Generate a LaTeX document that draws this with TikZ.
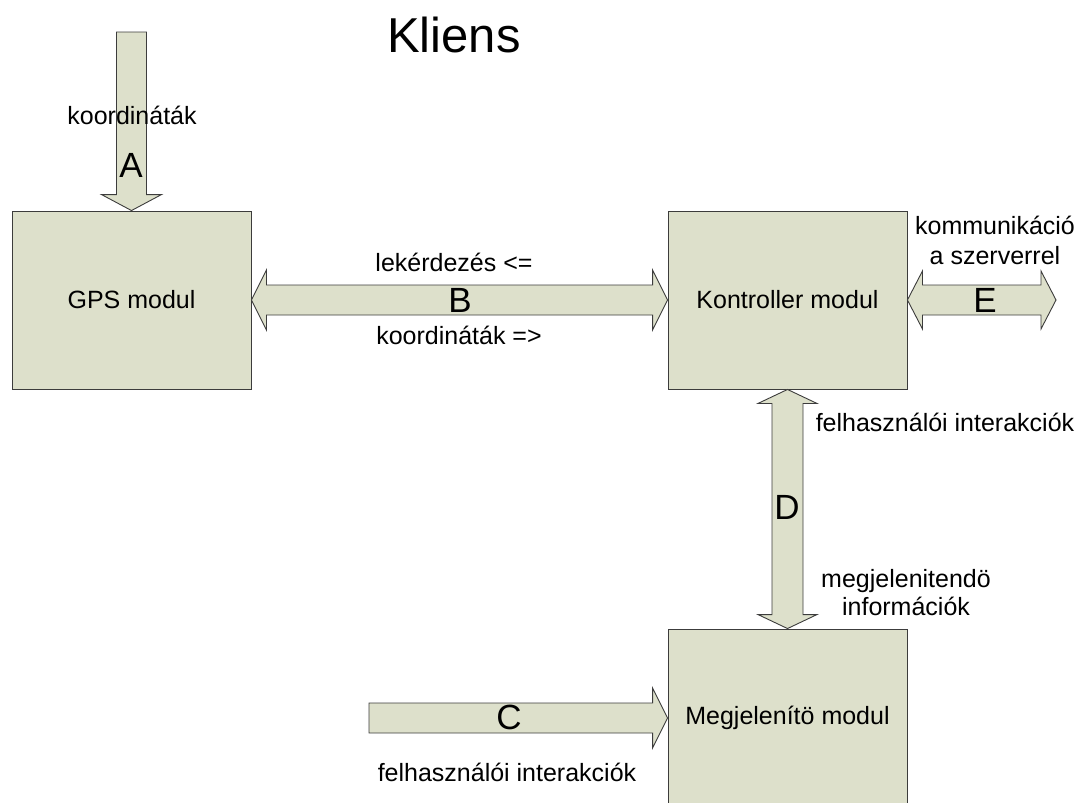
\documentclass[tikz,border=0pt]{standalone}
\usepackage{fontspec}
\setmainfont{Liberation Sans}
\usetikzlibrary{calc,positioning}
\definecolor{boxfill}{HTML}{DDE0CB}
\definecolor{edge}{HTML}{3C3C3C}

\begin{document}
\begin{tikzpicture}[x=1pt,y=-1pt,
    box/.style={draw=edge,fill=boxfill,line width=0.9pt,minimum width=239pt,
      minimum height=178pt,inner sep=0pt,font=\fontsize{25}{28}\selectfont},
    blk/.style={draw=edge,fill=boxfill,line width=0.9pt,line join=miter},
    lbl/.style={font=\fontsize{25}{28}\selectfont,align=center,inner sep=0pt},
    letter/.style={font=\fontsize{35}{38}\selectfont,inner sep=0pt}]
  \useasboundingbox (0,0) rectangle (1079,803);
  \node[font=\fontsize{49}{52}\selectfont] (title) at (454,35) {Kliens};
  \node[box] (gps) at (131.5,300) {GPS modul};
  \node[box] (ctrl) at (787.5,300) {Kontroller modul};
  \node[box] (megj) at (787.5,718) {Megjelenítö modul};
  \coordinate (aTop) at (131.5,32);
  \coordinate (eEnd) at (1056,300);
  \coordinate (cTail) at (369,718);
  % A: coordinates into the GPS module
  \draw[blk] ($(aTop)+(-15,0)$) -- ($(gps.north)+(-15,-16)$) -- ($(gps.north)+(-30,-16)$)
    -- (gps.north) -- ($(gps.north)+(30,-16)$) -- ($(gps.north)+(15,-16)$)
    -- ($(aTop)+(15,0)$) -- cycle;
  % B: GPS <-> Kontroller
  \draw[blk] (gps.east) -- ($(gps.east)+(15,-30)$) -- ($(gps.east)+(15,-15)$)
    -- ($(ctrl.west)+(-15,-15)$) -- ($(ctrl.west)+(-15,-30)$) -- (ctrl.west)
    -- ($(ctrl.west)+(-15,30)$) -- ($(ctrl.west)+(-15,15)$)
    -- ($(gps.east)+(15,15)$) -- ($(gps.east)+(15,30)$) -- cycle;
  % E: Kontroller <-> szerver
  \draw[blk] (ctrl.east) -- ($(ctrl.east)+(15,-29)$) -- ($(ctrl.east)+(15,-15)$)
    -- ($(eEnd)+(-15,-15)$) -- ($(eEnd)+(-15,-29)$) -- (eEnd)
    -- ($(eEnd)+(-15,29)$) -- ($(eEnd)+(-15,15)$)
    -- ($(ctrl.east)+(15,15)$) -- ($(ctrl.east)+(15,29)$) -- cycle;
  % D: Kontroller <-> Megjelenito
  \draw[blk] (ctrl.south) -- ($(ctrl.south)+(29.5,14)$) -- ($(ctrl.south)+(15.5,14)$)
    -- ($(megj.north)+(15.5,-14)$) -- ($(megj.north)+(29.5,-14)$) -- (megj.north)
    -- ($(megj.north)+(-29.5,-14)$) -- ($(megj.north)+(-15.5,-14)$)
    -- ($(ctrl.south)+(-15.5,14)$) -- ($(ctrl.south)+(-29.5,14)$) -- cycle;
  % C: user input into Megjelenito
  \draw[blk] ($(cTail)+(0,-15)$) -- ($(megj.west)+(-15,-15)$) -- ($(megj.west)+(-15,-30)$)
    -- (megj.west) -- ($(megj.west)+(-15,30)$) -- ($(megj.west)+(-15,15)$)
    -- ($(cTail)+(0,15)$) -- cycle;
  \node[lbl] (aLbl) at (132,115) {koordináták};
  \node[letter] (aLtr) at (131,165) {A};
  \node[lbl] (bTop) at (454,262) {lekérdezés <=};
  \node[letter] (bLtr) at (460,300) {B};
  \node[lbl] (bBot) at (459,335) {koordináták =>};
  \node[letter] (eLtr) at (985,300) {E};
  \node[lbl,font=\fontsize{25}{30}\selectfont] (eLbl) at (995,240) {kommunikáció\\a szerverrel};
  \node[letter] (dLtr) at (787,507) {D};
  \node[lbl] (dTop) at (945,422) {felhasználói interakciók};
  \node[lbl] (dBot) at (906,593) {megjelenitendö\\információk};
  \node[letter] (cLtr) at (509,717) {C};
  \node[lbl] (cLbl) at (507,772) {felhasználói interakciók};
\end{tikzpicture}
\end{document}
